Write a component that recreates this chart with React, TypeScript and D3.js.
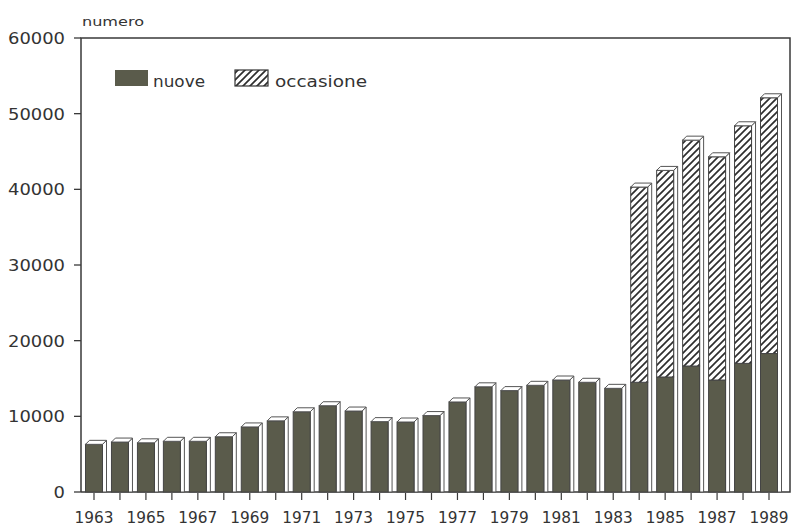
import React from "react";
import * as d3 from "d3";

const years = ["1963","1964","1965","1966","1967","1968","1969","1970","1971","1972","1973","1974","1975","1976","1977","1978","1979","1980","1981","1982","1983","1984","1985","1986","1987","1988","1989"];
const nuove = [6300,6600,6500,6700,6700,7300,8600,9400,10600,11400,10700,9300,9250,10100,11900,13900,13400,14100,14800,14500,13700,14500,15200,16650,14800,17000,18300];
const occasione = [0,0,0,0,0,0,0,0,0,0,0,0,0,0,0,0,0,0,0,0,0,25800,27300,29850,29500,31400,33800];
const yTicks = [0,10000,20000,30000,40000,50000,60000];
const yearLabels = ["1963","1965","1967","1969","1971","1973","1975","1977","1979","1981","1983","1985","1987","1989"];
const seriesNames = ["nuove","occasione"];

const W = 791, H = 527;
const plotL = 81, plotR = 790, plotT = 38, plotB = 492;
const DARK = "#5a5b4b";
const INK = "#3a3a3a";
const FONT = "'DejaVu Sans', Verdana, sans-serif";

export default function App() {
  const x = d3.scalePoint<string>().domain(years).range([plotL + 13, plotR - 21]);
  const y = d3.scaleLinear().domain([0, 60000]).range([plotB, plotT]);
  const bw = 17, d = 4;

  return (
    <svg width={W} height={H} style={{ position: "absolute", left: 0, top: 0, background: "#fff" }}>
      <defs>
        <pattern id="hatch" patternUnits="userSpaceOnUse" width="7" height="7">
          <rect width="7" height="7" fill="#fff" />
          <path d="M-1,1 l2,-2 M0,7 l7,-7 M6,8 l2,-2" stroke="#2e2e2e" strokeWidth="1.7" />
        </pattern>
      </defs>
      {/* frame */}
      <path d={`M${plotL},${plotB} V${plotT} H${plotR} V${plotB} H${plotL}`} fill="none" stroke={INK} strokeWidth={1.5} />
      {/* y ticks */}
      {yTicks.map(t => (
        <g key={t}>
          <line x1={plotL - 7} x2={plotL} y1={y(t)} y2={y(t)} stroke={INK} strokeWidth={1.3} />
          <text x={65} y={y(t) + 6} textAnchor="end" fontFamily={FONT} fontSize={16} fill="#333"
            textLength={String(t).length * 11.4} lengthAdjust="spacingAndGlyphs">{t}</text>
        </g>
      ))}
      <text x={82} y={26} fontFamily={FONT} fontSize={13} fill="#333" textLength={62} lengthAdjust="spacingAndGlyphs">numero</text>
      {/* x ticks */}
      {years.map(yr => (
        <line key={yr} x1={x(yr)} x2={x(yr)} y1={plotB + 1} y2={plotB + 8} stroke={INK} strokeWidth={1.2} />
      ))}
      {yearLabels.map(yr => (
        <text key={yr} x={x(yr)} y={523} textAnchor="middle" fontFamily={FONT} fontSize={15} fill="#333"
          textLength={39} lengthAdjust="spacingAndGlyphs">{yr}</text>
      ))}
      {/* bars */}
      {years.map((yr, i) => {
        const cx = x(yr)!;
        const x0 = cx - bw / 2;
        const yn = y(nuove[i]);
        const total = nuove[i] + occasione[i];
        const yt = y(total);
        return (
          <g key={yr}>
            <polygon points={`${x0 + bw},${yt} ${x0 + bw + d},${yt - d} ${x0 + bw + d},${plotB} ${x0 + bw},${plotB}`}
              fill="#fff" stroke="#555" strokeWidth={1} strokeLinejoin="round" />
            <rect x={x0} y={yn} width={bw} height={plotB - yn} fill={DARK} stroke="#444" strokeWidth={1} />
            {occasione[i] > 0 && (
              <rect x={x0} y={yt} width={bw} height={yn - yt} fill="url(#hatch)" stroke="#444" strokeWidth={1} />
            )}
            <polygon points={`${x0},${yt} ${x0 + d},${yt - d} ${x0 + bw + d},${yt - d} ${x0 + bw},${yt}`}
              fill="#fff" stroke="#555" strokeWidth={1} strokeLinejoin="round" />
          </g>
        );
      })}
      {/* legend */}
      <rect x={115} y={70} width={33} height={16} fill={DARK} />
      <text x={153} y={87} fontFamily={FONT} fontSize={15} fill="#333" textLength={52} lengthAdjust="spacingAndGlyphs">{seriesNames[0]}</text>
      <rect x={235} y={70} width={33} height={16} fill="url(#hatch)" stroke="#333" strokeWidth={1.2} />
      <text x={275} y={87} fontFamily={FONT} fontSize={15} fill="#333" textLength={92} lengthAdjust="spacingAndGlyphs">{seriesNames[1]}</text>
    </svg>
  );
}
